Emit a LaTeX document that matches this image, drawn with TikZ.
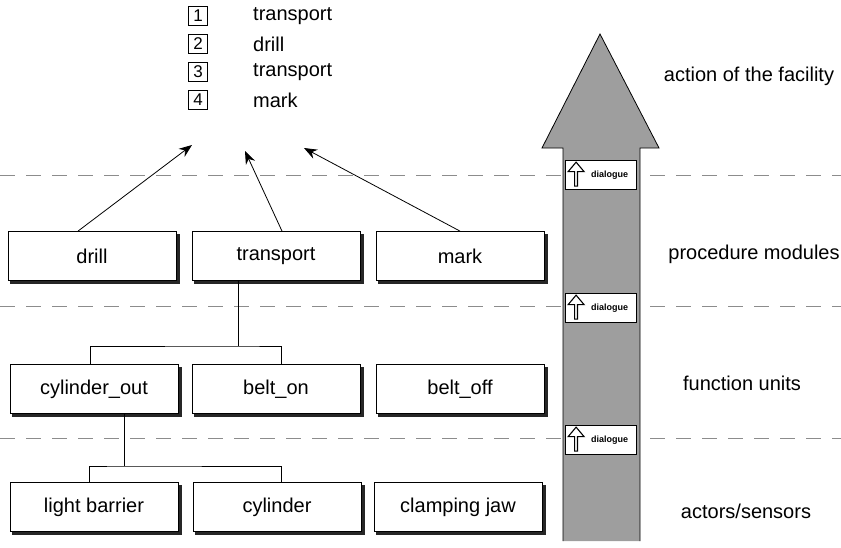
\documentclass[tikz,border=0pt]{standalone}
\usepackage{fontspec}
\setmainfont{Liberation Sans}
\usetikzlibrary{shapes.arrows,arrows.meta}

\begin{document}
\begin{tikzpicture}[x=1pt,y=-1pt,>={Stealth[length=13pt,width=10pt]},
  unitbox/.style={draw, fill=white, line width=0.8pt, minimum width=168pt, minimum height=49pt, inner sep=0pt,
    font=\fontsize{20}{23}\selectfont},
  boxshadow/.style={draw=black!85, line width=3pt, line cap=rect},
  numbox/.style={draw, line width=0.8pt, minimum size=19pt, inner sep=0pt, font=\fontsize{17}{19}\selectfont},
  steptext/.style={anchor=west, inner sep=0pt, font=\fontsize{20}{23}\selectfont},
  levellabel/.style={inner sep=0pt, font=\fontsize{20}{23}\selectfont},
  layerline/.style={draw=black!45, line width=1pt, dash pattern=on 15pt off 11pt},
  dlgbox/.style={draw, fill=white, line width=0.8pt, minimum width=71pt, minimum height=29pt, inner sep=0pt,
    font=\fontsize{9}{10}\selectfont\bfseries},
  dlgarrow/.style={single arrow, draw, fill=white, rotate=90, minimum height=24pt,
    minimum width=16pt, single arrow head extend=2.5pt, single arrow tip angle=80, inner sep=0pt, line width=1.1pt}]
\useasboundingbox (0,0) rectangle (841,547);

% sequence of actions
\node[numbox] (n1) at (198,16) {1};
\node[numbox] (n2) at (198,44) {2};
\node[numbox] (n3) at (198,72) {3};
\node[numbox] (n4) at (198,100) {4};
\node[steptext] (s1) at (253,16) {transport};
\node[steptext] (s2) at (253,44) {drill};
\node[steptext] (s3) at (253,72) {transport};
\node[steptext] (s4) at (253,100) {mark};
\coordinate (t1) at (192,145);
\coordinate (t2) at (245,151);
\coordinate (t3) at (304,148);

% layer borders
\draw[layerline] (0,175) -- (841,175);
\draw[layerline] (0,306) -- (841,306);
\draw[layerline] (0,438) -- (841,438);

% procedure modules
\node[unitbox] (drill) at (92,256) {drill};
\node[unitbox] (transport) at (276,256) {transport};
\node[unitbox] (mark) at (460,256) {mark};

% function units
\node[unitbox] (cylout) at (94,389) {cylinder\_out};
\node[unitbox] (belton) at (276,389) {belt\_on};
\node[unitbox] (beltoff) at (460,389) {belt\_off};

% actors/sensors
\node[unitbox] (light) at (94,507) {light barrier};
\node[unitbox] (cylinder) at (277,507) {cylinder};
\node[unitbox] (jaw) at (458,507) {clamping jaw};

% shadows of the boxes
\foreach \cx/\cy in {92/256, 276/256, 460/256, 94/389, 276/389, 460/389, 94/507, 277/507, 458/507}
  \draw[boxshadow] (\cx+86,\cy-21) -- (\cx+86,\cy+26) -- (\cx-81,\cy+26);

\draw[->, line width=0.8pt] ([xshift=-14pt]drill.north) -- (t1);
\draw[->, line width=0.8pt] ([xshift=6pt]transport.north) -- (t2);
\draw[->, line width=0.8pt] (mark.north) -- (t3);

\draw (transport.south -| 238,0) -- (238,346) coordinate (j1);
\draw ([xshift=-4pt]cylout.north) |- (j1) -| ([xshift=5pt]belton.north);
\draw (cylout.south -| 124,0) -- (124,466) coordinate (j2);
\draw ([xshift=-5pt]light.north) |- (j2) -| ([xshift=4pt]cylinder.north);

% level arrow
\draw[fill=black!38, line width=0.8pt] (563,541) -- (563,148) -- (542,148) -- (600,34)
  -- (659,148) -- (640,148) -- (640,541);
\foreach \y/\n in {175/1, 308/2, 440/3} {
  \node[dlgbox] (dlg\n) at (601,\y) {\hspace*{17pt}dialogue};
  \node[dlgarrow] (up\n) at ([xshift=11pt]dlg\n.west) {};
}

% level names
\node[levellabel] (l1) at (749,76) {action of the facility};
\node[levellabel] (l2) at (754,254) {procedure modules};
\node[levellabel] (l3) at (742,383) {function units};
\node[levellabel] (l4) at (746,511) {actors/sensors};
\end{tikzpicture}
\end{document}
